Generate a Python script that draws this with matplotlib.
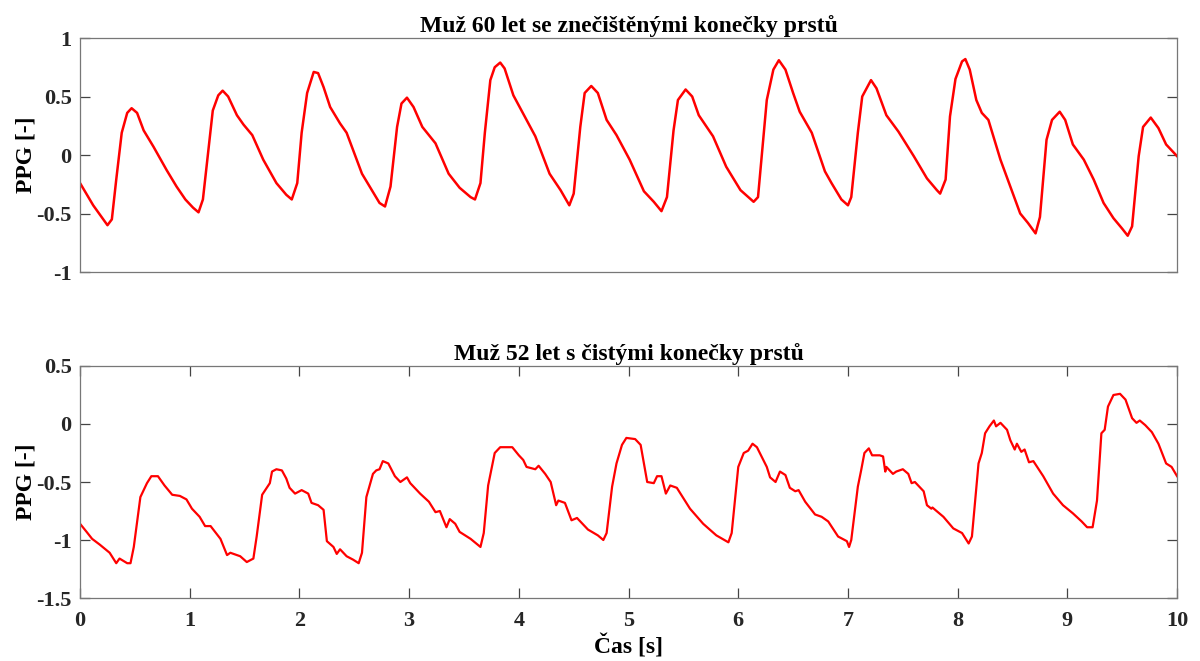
import numpy as np
import matplotlib.pyplot as plt

plt.rcParams['font.family'] = ['Liberation Serif', 'DejaVu Serif']
plt.rcParams['font.weight'] = 'bold'

# horni zaznam - muz 60 let, znecistene prsty
t_top = [0.00, 0.12, 0.25, 0.29, 0.33, 0.38, 0.43, 0.47, 0.52, 0.58, 0.67, 0.79, 0.88, 0.96,
         1.03, 1.08, 1.12, 1.17, 1.21, 1.26, 1.30, 1.35, 1.43, 1.49, 1.57, 1.67, 1.79, 1.88,
         1.93, 1.98, 2.02, 2.07, 2.13, 2.17, 2.22, 2.28, 2.37, 2.43, 2.57, 2.64, 2.73, 2.78,
         2.83, 2.89, 2.93, 2.98, 3.04, 3.12, 3.24, 3.36, 3.46, 3.56, 3.60, 3.65, 3.69, 3.74,
         3.78, 3.83, 3.87, 3.95, 4.07, 4.15, 4.28, 4.38, 4.46, 4.50, 4.56, 4.60, 4.66, 4.72,
         4.80, 4.89, 5.01, 5.14, 5.23, 5.30, 5.35, 5.41, 5.45, 5.52, 5.58, 5.64, 5.77, 5.89,
         6.02, 6.14, 6.18, 6.26, 6.32, 6.37, 6.43, 6.50, 6.56, 6.67, 6.79, 6.85, 6.94, 7.00,
         7.03, 7.09, 7.13, 7.21, 7.26, 7.35, 7.46, 7.60, 7.72, 7.81, 7.84, 7.89, 7.93, 7.98,
         8.04, 8.07, 8.11, 8.17, 8.22, 8.28, 8.39, 8.48, 8.57, 8.64, 8.71, 8.75, 8.81, 8.86,
         8.93, 8.98, 9.05, 9.15, 9.24, 9.33, 9.42, 9.50, 9.55, 9.59, 9.65, 9.69, 9.76, 9.83,
         9.90, 10.00]
ppg_top = [-0.24, -0.43, -0.60, -0.55, -0.21, 0.19, 0.36, 0.40, 0.36, 0.21, 0.07, -0.13, -0.27, -0.38,
           -0.45, -0.49, -0.38, 0.04, 0.38, 0.51, 0.55, 0.50, 0.34, 0.26, 0.17, -0.04, -0.24, -0.34,
           -0.38, -0.24, 0.19, 0.53, 0.71, 0.70, 0.58, 0.41, 0.27, 0.19, -0.16, -0.27, -0.41, -0.44,
           -0.27, 0.24, 0.44, 0.49, 0.41, 0.24, 0.10, -0.16, -0.28, -0.36, -0.38, -0.24, 0.19, 0.64,
           0.75, 0.79, 0.74, 0.51, 0.30, 0.16, -0.16, -0.30, -0.43, -0.33, 0.24, 0.53, 0.59, 0.53,
           0.30, 0.17, -0.04, -0.31, -0.40, -0.48, -0.36, 0.21, 0.47, 0.56, 0.50, 0.34, 0.16, -0.10,
           -0.30, -0.40, -0.36, 0.47, 0.73, 0.81, 0.73, 0.53, 0.37, 0.19, -0.14, -0.24, -0.38, -0.43,
           -0.36, 0.19, 0.50, 0.64, 0.57, 0.34, 0.20, -0.01, -0.20, -0.30, -0.33, -0.21, 0.33, 0.65,
           0.80, 0.82, 0.73, 0.47, 0.36, 0.30, -0.04, -0.27, -0.50, -0.58, -0.67, -0.53, 0.13, 0.30,
           0.37, 0.30, 0.09, -0.04, -0.21, -0.41, -0.54, -0.63, -0.69, -0.61, -0.01, 0.24, 0.32, 0.23,
           0.09, -0.01]

# dolni zaznam - muz 52 let, ciste prsty
t_bot = [0.00, 0.06, 0.11, 0.18, 0.27, 0.33, 0.36, 0.43, 0.46, 0.49, 0.55, 0.61, 0.65, 0.71,
         0.77, 0.84, 0.91, 0.97, 1.02, 1.09, 1.14, 1.19, 1.28, 1.34, 1.37, 1.46, 1.52, 1.58,
         1.61, 1.66, 1.73, 1.75, 1.79, 1.84, 1.88, 1.91, 1.96, 2.02, 2.08, 2.11, 2.17, 2.22,
         2.25, 2.31, 2.34, 2.37, 2.43, 2.49, 2.54, 2.57, 2.61, 2.67, 2.70, 2.73, 2.76, 2.81,
         2.87, 2.92, 2.98, 3.01, 3.10, 3.18, 3.24, 3.28, 3.34, 3.37, 3.42, 3.46, 3.56, 3.65,
         3.68, 3.72, 3.78, 3.83, 3.94, 4.00, 4.04, 4.07, 4.15, 4.18, 4.24, 4.29, 4.34, 4.36,
         4.42, 4.48, 4.53, 4.63, 4.72, 4.77, 4.80, 4.85, 4.89, 4.94, 4.98, 5.06, 5.11, 5.17,
         5.23, 5.26, 5.30, 5.34, 5.38, 5.44, 5.56, 5.68, 5.80, 5.91, 5.94, 6.00, 6.05, 6.09,
         6.13, 6.17, 6.26, 6.29, 6.34, 6.38, 6.43, 6.47, 6.52, 6.55, 6.61, 6.70, 6.76, 6.82,
         6.91, 6.99, 7.01, 7.03, 7.09, 7.12, 7.15, 7.19, 7.22, 7.29, 7.32, 7.34, 7.35, 7.41,
         7.44, 7.50, 7.55, 7.58, 7.61, 7.69, 7.72, 7.76, 7.77, 7.87, 7.96, 8.04, 8.10, 8.13,
         8.19, 8.22, 8.25, 8.29, 8.33, 8.35, 8.39, 8.45, 8.48, 8.52, 8.54, 8.58, 8.61, 8.65,
         8.69, 8.78, 8.87, 8.96, 9.05, 9.13, 9.18, 9.23, 9.27, 9.31, 9.34, 9.37, 9.42, 9.48,
         9.53, 9.59, 9.63, 9.66, 9.71, 9.77, 9.83, 9.90, 9.95, 10.00]
ppg_bot = [-0.86, -0.93, -0.99, -1.04, -1.11, -1.20, -1.16, -1.20, -1.20, -1.06, -0.63, -0.51, -0.45, -0.45,
           -0.53, -0.61, -0.62, -0.65, -0.73, -0.80, -0.88, -0.88, -0.99, -1.13, -1.11, -1.14, -1.19, -1.16,
           -0.97, -0.61, -0.51, -0.41, -0.39, -0.40, -0.47, -0.55, -0.60, -0.57, -0.60, -0.68, -0.70, -0.74,
           -1.01, -1.06, -1.12, -1.08, -1.14, -1.17, -1.20, -1.11, -0.63, -0.43, -0.40, -0.39, -0.32, -0.34,
           -0.45, -0.50, -0.46, -0.51, -0.60, -0.67, -0.76, -0.75, -0.89, -0.82, -0.86, -0.93, -0.99, -1.06,
           -0.94, -0.53, -0.25, -0.20, -0.20, -0.27, -0.31, -0.37, -0.39, -0.36, -0.43, -0.50, -0.70, -0.66,
           -0.68, -0.83, -0.81, -0.91, -0.96, -1.00, -0.94, -0.54, -0.34, -0.18, -0.12, -0.13, -0.18, -0.50,
           -0.51, -0.45, -0.45, -0.60, -0.53, -0.55, -0.73, -0.86, -0.96, -1.02, -0.94, -0.37, -0.25, -0.23,
           -0.17, -0.20, -0.37, -0.46, -0.50, -0.41, -0.44, -0.55, -0.58, -0.57, -0.67, -0.78, -0.80, -0.84,
           -0.97, -1.01, -1.06, -1.00, -0.54, -0.40, -0.25, -0.21, -0.27, -0.27, -0.28, -0.41, -0.37, -0.43,
           -0.41, -0.39, -0.43, -0.51, -0.50, -0.58, -0.70, -0.73, -0.72, -0.80, -0.90, -0.94, -1.03, -0.97,
           -0.34, -0.25, -0.08, -0.02, 0.03, -0.02, 0.01, -0.05, -0.14, -0.22, -0.17, -0.24, -0.22, -0.33,
           -0.32, -0.45, -0.60, -0.70, -0.77, -0.84, -0.89, -0.89, -0.66, -0.08, -0.05, 0.15, 0.25, 0.26,
           0.21, 0.05, 0.01, 0.03, -0.01, -0.07, -0.17, -0.34, -0.37, -0.45]

titles = ["Muž 60 let se znečištěnými konečky prstů", "Muž 52 let s čistými konečky prstů"]
yticks_top = [-1, -0.5, 0, 0.5, 1]
yticks_bot = [-1.5, -1, -0.5, 0, 0.5]
xticks = list(range(0, 11))

fig = plt.figure(figsize=(12, 6.61), dpi=100)
ax1 = fig.add_axes([0.0667, 0.5885, 0.9142, 0.354])
ax2 = fig.add_axes([0.0667, 0.0953, 0.9142, 0.351])

ax1.plot(t_top, ppg_top, color="red", linewidth=1.8, solid_joinstyle="round")
ax2.plot(t_bot, ppg_bot, color="red", linewidth=1.6, solid_joinstyle="round")

for ax, title, yt in [(ax1, titles[0], yticks_top), (ax2, titles[1], yticks_bot)]:
    ax.set_xlim(0, 10)
    ax.set_ylim(yt[0], yt[-1])
    ax.set_yticks(yt)
    ax.set_yticklabels([("%g" % v) for v in yt])
    ax.set_title(title, fontsize=17, fontweight="bold", pad=4)
    ax.set_ylabel("PPG [-]", fontsize=17, fontweight="bold", labelpad=0)
    for s in ax.spines.values():
        s.set_color("#777777")
        s.set_linewidth(0.9)
    ax.tick_params(direction="in", length=7, width=0.9, color="#444444",
                   labelsize=16, labelcolor="#262626", right=True, top=True)
    ax.tick_params(axis="y", pad=6)
    ax.tick_params(axis="x", pad=9)

ax1.set_xticks([])
ax2.set_xticks(xticks)
ax2.set_xlabel("Čas [s]", fontsize=17, fontweight="bold", labelpad=3)

plt.savefig("out.png", dpi=100)
